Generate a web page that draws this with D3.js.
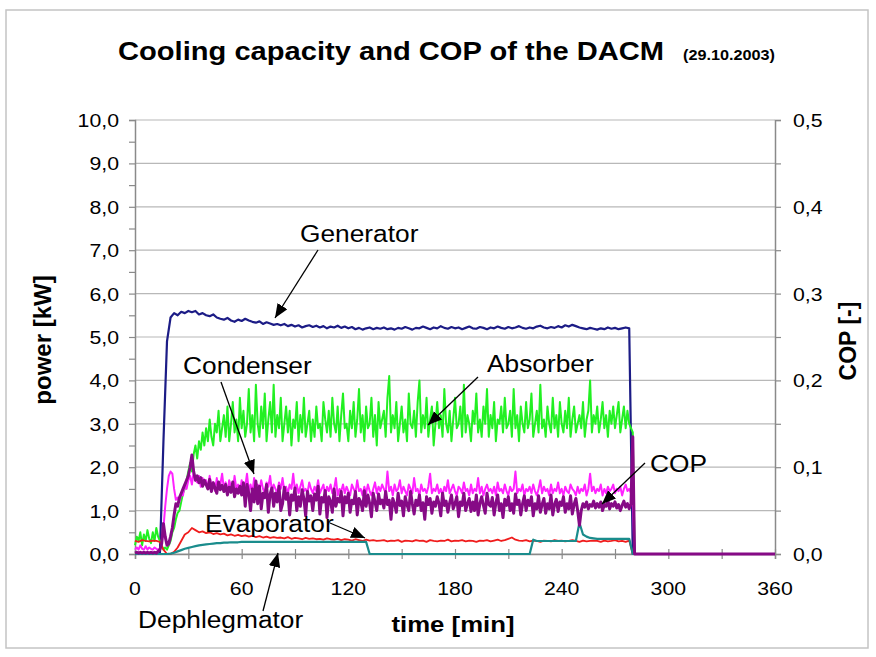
<!DOCTYPE html>
<html>
<head>
<meta charset="utf-8">
<script src="https://cdn.jsdelivr.net/npm/d3@7"></script>
<style>
    body { margin: 0; background: #fff; }
    #chart-area { width: 876px; height: 657px; }
    text { font-family: "Liberation Sans", Arial, sans-serif; fill: #000; }
</style>
</head>
<body>
<div id="chart-area"></div>
<script>
// sample times [min]: fine = every minute, coarse = every 2 minutes, both end with the idle point at 360
const fineMinutes = d3.range(0, 282, 1).concat([360]);
const coarseMinutes = d3.range(0, 282, 2).concat([360]);

// Absorber [kW], every minute
const absorberKW = [
    0.2,0.4,0.3,0.5,0.2,0.45,0.3,0.55,0.35,0.25,
    0.5,0.3,0.6,0.4,0.3,0.2,0.1,0.15,0.1,0.2,
    0.3,0.5,0.6,0.8,0.95,1.0,1.2,1.4,1.5,1.7,
    1.9,2.1,1.9,2.3,2.5,2.2,2.6,2.4,2.8,2.5,
    2.9,2.6,3.1,2.7,2.5,3.0,2.8,3.3,2.6,2.9,
    3.2,2.7,3.4,2.6,3.0,3.5,2.8,3.1,2.6,3.6,
    2.9,3.3,2.7,3.0,3.8,2.8,3.2,2.6,3.9,3.0,
    2.7,3.4,2.9,3.7,2.6,3.1,3.5,2.8,3.9,2.7,
    3.2,2.9,3.6,2.6,3.0,3.4,2.8,3.3,2.5,3.1,
    2.9,3.5,2.6,3.2,2.8,3.6,2.7,3.0,3.3,2.6,
    3.1,2.7,3.4,2.9,3.0,2.6,3.5,3.1,2.8,3.3,
    2.7,3.6,3.0,2.8,3.4,2.6,3.2,3.7,2.9,3.0,
    2.6,3.3,2.9,3.5,2.7,3.1,3.8,2.8,3.2,2.6,
    3.4,2.9,3.0,3.6,2.7,3.2,2.5,3.5,2.9,3.1,
    3.3,2.7,3.6,4.1,2.8,3.2,2.9,3.5,2.6,3.0,
    3.4,2.8,3.1,2.6,3.7,3.0,2.9,3.3,2.7,3.5,
    4.0,2.8,3.2,2.9,3.6,2.7,3.1,3.4,2.5,3.0,
    3.5,2.9,3.2,2.7,3.8,3.0,2.8,3.3,2.6,3.1,
    3.6,2.9,3.0,3.4,2.7,3.9,2.8,3.2,3.0,2.6,
    3.3,3.0,3.7,2.8,3.1,2.7,3.4,3.0,3.8,2.7,
    3.2,2.9,3.5,2.6,3.1,3.0,3.4,2.8,3.6,2.9,
    3.0,3.3,2.7,3.8,2.9,3.2,2.6,3.4,3.0,2.8,
    3.5,2.9,3.1,3.7,2.7,3.0,3.3,2.8,3.9,2.9,
    3.1,2.7,3.4,3.0,2.8,3.6,2.9,3.2,2.7,3.5,
    3.0,2.8,3.3,2.9,3.6,2.7,3.1,3.4,2.8,3.0,
    3.2,2.9,3.5,2.7,3.1,3.3,4.0,2.8,3.2,3.0,
    3.4,2.8,3.1,3.5,2.9,3.2,2.7,3.3,3.0,3.4,
    2.9,3.2,3.5,2.8,3.1,3.4,2.9,3.3,3.0,2.9,
    2.8,0,
    0
];

// Condenser [kW], every minute
const condenserKW = [
    0.1,0.15,0.1,0.2,0.12,0.1,0.18,0.1,0.15,0.12,
    0.1,0.15,0.12,0.1,0.12,0.2,0.6,1.1,1.5,1.8,
    1.9,1.85,1.5,1.25,1.3,1.2,1.4,1.35,1.6,1.5,
    1.7,1.8,1.6,1.9,1.7,1.65,1.8,1.55,1.75,1.6,
    1.7,1.5,1.8,1.55,1.65,1.45,1.75,1.5,1.6,1.85,
    1.5,1.65,1.4,1.7,1.55,1.45,1.8,1.5,1.6,1.4,
    1.7,1.5,1.55,1.85,1.45,1.6,1.4,1.75,1.5,1.6,
    1.45,1.7,1.5,1.4,1.65,1.55,1.8,1.45,1.6,1.5,
    1.4,1.65,1.5,1.75,1.45,1.55,1.4,1.6,1.5,1.85,
    1.45,1.6,1.4,1.55,1.7,1.45,1.5,1.4,1.65,1.5,
    1.4,1.55,1.45,1.7,1.4,1.5,1.6,1.35,1.55,1.45,
    1.6,1.4,1.5,1.75,1.35,1.5,1.45,1.6,1.4,1.55,
    1.45,1.35,1.6,1.5,1.4,1.7,1.45,1.5,1.35,1.55,
    1.4,1.6,1.45,1.35,1.5,1.65,1.4,1.55,1.45,1.6,
    1.5,1.4,1.9,1.45,1.55,1.35,1.6,1.45,1.5,1.7,
    1.4,1.55,1.45,1.35,1.6,1.5,1.4,1.75,1.45,1.5,
    1.35,1.6,1.45,1.5,1.4,1.55,1.85,1.4,1.5,1.45,
    1.6,1.4,1.5,1.35,1.55,1.45,1.7,1.4,1.5,1.6,
    1.45,1.35,1.55,1.5,1.4,1.65,1.45,1.5,1.35,1.6,
    1.4,1.5,1.45,1.75,1.4,1.55,1.35,1.5,1.6,1.45,
    1.5,1.4,1.55,1.35,1.65,1.45,1.5,1.4,1.6,1.45,
    1.35,1.55,1.45,1.5,1.9,1.4,1.5,1.45,1.6,1.35,
    1.5,1.45,1.55,1.4,1.6,1.45,1.35,1.5,1.7,1.4,
    1.55,1.45,1.5,1.35,1.6,1.4,1.5,1.45,1.65,1.4,
    1.5,1.35,1.55,1.45,1.4,1.6,1.5,1.45,1.35,1.55,
    1.4,1.5,1.45,1.6,1.35,1.5,1.85,1.45,1.55,1.4,
    1.5,1.45,1.6,1.35,1.5,1.4,1.55,1.45,1.5,1.6,
    1.4,1.5,1.45,1.55,1.35,1.5,1.6,1.45,1.5,1.4,
    1.2,0,
    0
];

// COP [-], every minute (right axis)
const copValues = [
    0.001,0.002,0.001,0.002,0.001,0.002,0.001,0.002,0.001,0.002,
    0.001,0.002,0.001,0.003,0.005,0.012,0.035,0.02,0.01,0.012,
    0.02,0.03,0.045,0.058,0.055,0.065,0.07,0.075,0.08,0.085,
    0.09,0.1,0.114,0.095,0.085,0.09,0.082,0.088,0.078,0.085,
    0.08,0.075,0.086,0.072,0.082,0.076,0.07,0.083,0.074,0.079,
    0.072,0.08,0.068,0.077,0.071,0.083,0.066,0.075,0.07,0.078,
    0.068,0.082,0.055,0.08,0.07,0.05,0.075,0.06,0.084,0.058,
    0.078,0.052,0.07,0.065,0.08,0.048,0.069,0.076,0.055,0.07,
    0.06,0.078,0.05,0.058,0.077,0.063,0.07,0.045,0.068,0.062,
    0.076,0.05,0.066,0.055,0.074,0.064,0.044,0.072,0.061,0.067,
    0.05,0.069,0.062,0.078,0.046,0.065,0.06,0.073,0.042,0.066,
    0.061,0.048,0.075,0.055,0.064,0.06,0.072,0.044,0.066,0.059,
    0.07,0.048,0.062,0.058,0.072,0.045,0.064,0.06,0.05,0.073,
    0.055,0.068,0.058,0.043,0.07,0.06,0.05,0.069,0.058,0.062,
    0.053,0.072,0.057,0.062,0.04,0.064,0.058,0.048,0.07,0.056,
    0.061,0.044,0.066,0.057,0.05,0.072,0.058,0.046,0.062,0.056,
    0.068,0.05,0.059,0.04,0.066,0.057,0.064,0.047,0.06,0.055,
    0.066,0.058,0.044,0.07,0.056,0.061,0.048,0.059,0.068,0.052,
    0.058,0.066,0.043,0.06,0.056,0.07,0.05,0.058,0.064,0.049,
    0.06,0.05,0.068,0.045,0.058,0.066,0.056,0.047,0.07,0.057,
    0.055,0.065,0.045,0.059,0.068,0.05,0.058,0.042,0.063,0.056,
    0.066,0.05,0.058,0.047,0.069,0.057,0.062,0.045,0.058,0.067,
    0.05,0.062,0.056,0.066,0.044,0.058,0.052,0.067,0.048,0.057,
    0.064,0.047,0.058,0.052,0.068,0.045,0.057,0.063,0.049,0.06,
    0.056,0.066,0.048,0.058,0.052,0.067,0.046,0.057,0.064,0.05,
    0.033,0.05,0.058,0.054,0.06,0.052,0.057,0.055,0.061,0.053,
    0.058,0.054,0.06,0.05,0.057,0.055,0.062,0.052,0.058,0.055,
    0.06,0.053,0.057,0.05,0.056,0.061,0.054,0.058,0.052,0.058,
    0.135,0,
    0
];

// Generator [kW], every 2 minutes
const generatorKW = [
    0,0,0,0,0,0,0,0,2.6,4.9,
    5.45,5.55,5.5,5.58,5.55,5.6,5.57,5.6,5.52,5.55,
    5.5,5.48,5.52,5.45,5.42,5.4,5.44,5.38,5.35,5.4,
    5.37,5.42,5.38,5.35,5.33,5.36,5.3,5.34,5.31,5.28,
    5.3,5.27,5.3,5.25,5.28,5.24,5.27,5.22,5.25,5.27,
    5.23,5.26,5.22,5.25,5.2,5.24,5.22,5.26,5.21,5.24,
    5.2,5.23,5.18,5.21,5.17,5.2,5.22,5.18,5.21,5.19,
    5.22,5.18,5.2,5.17,5.21,5.19,5.23,5.2,5.17,5.21,
    5.2,5.24,5.21,5.18,5.22,5.2,5.25,5.21,5.19,5.23,
    5.2,5.22,5.18,5.21,5.24,5.2,5.19,5.23,5.21,5.18,
    5.22,5.2,5.24,5.21,5.19,5.23,5.2,5.22,5.25,5.21,
    5.19,5.22,5.2,5.24,5.26,5.22,5.2,5.23,5.21,5.25,
    5.22,5.27,5.24,5.28,5.25,5.22,5.2,5.18,5.21,5.19,
    5.17,5.2,5.18,5.22,5.19,5.21,5.18,5.2,5.22,5.2,
    0,
    0
];

// Evaporator [kW], every 2 minutes
const evaporatorKW = [
    0.3,0.28,0.32,0.3,0.29,0.31,0.3,0.28,0.1,0.0,
    0.0,0.05,0.15,0.3,0.45,0.5,0.6,0.55,0.5,0.52,
    0.48,0.5,0.46,0.48,0.45,0.47,0.43,0.45,0.42,0.44,
    0.41,0.43,0.4,0.42,0.39,0.41,0.38,0.4,0.37,0.39,
    0.37,0.38,0.36,0.39,0.35,0.37,0.36,0.34,0.37,0.35,
    0.36,0.34,0.35,0.33,0.36,0.34,0.33,0.35,0.32,0.34,
    0.33,0.31,0.34,0.32,0.3,0.33,0.31,0.32,0.3,0.31,
    0.32,0.29,0.31,0.3,0.32,0.28,0.31,0.3,0.29,0.32,
    0.3,0.31,0.28,0.32,0.3,0.29,0.31,0.3,0.33,0.29,
    0.31,0.3,0.32,0.29,0.31,0.3,0.28,0.31,0.3,0.32,
    0.29,0.31,0.33,0.3,0.32,0.35,0.38,0.33,0.31,0.3,
    0.32,0.29,0.31,0.3,0.28,0.31,0.3,0.29,0.32,0.3,
    0.31,0.29,0.3,0.32,0.3,0.28,0.31,0.29,0.3,0.31,
    0.3,0.28,0.31,0.29,0.3,0.32,0.29,0.3,0.28,0.31,
    0,
    0
];

// Dephlegmator [kW], every 2 minutes
const dephlegmatorKW = [
    0,0,0,0,0,0,0,0,0,0,
    0.01,0.03,0.06,0.09,0.12,0.14,0.16,0.18,0.2,0.21,
    0.22,0.23,0.24,0.25,0.25,0.26,0.26,0.27,0.27,0.27,
    0.28,0.28,0.28,0.28,0.28,0.28,0.28,0.28,0.28,0.28,
    0.28,0.28,0.28,0.28,0.28,0.28,0.28,0.28,0.28,0.28,
    0.28,0.28,0.28,0.28,0.28,0.28,0.28,0.28,0.28,0.28,
    0.28,0.28,0.28,0.28,0.28,0.28,0,0,0,0,
    0,0,0,0,0,0,0,0,0,0,
    0,0,0,0,0,0,0,0,0,0,
    0,0,0,0,0,0,0,0,0,0,
    0,0,0,0,0,0,0,0,0,0,
    0,0,0.33,0.3,0.3,0.3,0.3,0.3,0.3,0.3,
    0.3,0.3,0.3,0.3,0.3,0.72,0.45,0.4,0.37,0.36,
    0.35,0.35,0.35,0.35,0.35,0.35,0.35,0.35,0.35,0.35,
    0,
    0
];

// axis ticks
const powerTicks = [0, 1, 2, 3, 4, 5, 6, 7, 8, 9, 10];
const copTicks = [0, 0.1, 0.2, 0.3, 0.4, 0.5];
const timeTicks = [0, 60, 120, 180, 240, 300, 360];

// text call-outs: label, text position, arrow start, arrow tip (in pixels)
const callouts = [
    { label: "Generator", tx: 300, ty: 242, from: [318, 250], to: [275, 318] },
    { label: "Condenser", tx: 183, ty: 374, from: [221, 382], to: [254, 474] },
    { label: "Absorber", tx: 487, ty: 372, from: [478, 377], to: [428, 425] },
    { label: "COP", tx: 650, ty: 472, from: [645, 463], to: [602, 504] },
    { label: "Evaporator", tx: 205, ty: 532, from: [330, 523], to: [365, 538] },
    { label: "Dephlegmator", tx: 138, ty: 628, from: [263, 611], to: [278, 553] }
];

class CoolingChart {
    constructor(parentElement) {
        this.parentElement = parentElement;
        this.initVis();
    }

    initVis() {
        let vis = this;

        vis.margin = { top: 120, right: 101, bottom: 103, left: 135 };
        vis.width = 876 - vis.margin.left - vis.margin.right;
        vis.height = 657 - vis.margin.top - vis.margin.bottom;
        vis.stretch = 1.12; // the picture's text is a bit wide

        vis.root = d3.select("#" + vis.parentElement).append("svg")
            .attr("width", 876)
            .attr("height", 657);

        // outer frame
        vis.root.append("rect")
            .attr("x", 6).attr("y", 10)
            .attr("width", 862).attr("height", 638)
            .attr("fill", "none")
            .attr("stroke", "#c4c4c4")
            .attr("stroke-width", 1.5);

        vis.root.append("defs").append("marker")
            .attr("id", "head")
            .attr("markerUnits", "userSpaceOnUse")
            .attr("viewBox", "0 0 12 10")
            .attr("refX", 12).attr("refY", 5)
            .attr("markerWidth", 14).attr("markerHeight", 12)
            .attr("orient", "auto")
            .append("path")
            .attr("d", "M0,0 L12,5 L0,10 Z")
            .attr("fill", "#000");

        vis.svg = vis.root.append("g")
            .attr("transform", "translate(" + vis.margin.left + "," + vis.margin.top + ")");

        vis.x = d3.scaleLinear().domain([0, 360]).range([0, vis.width]);
        vis.y = d3.scaleLinear().domain([0, 10]).range([vis.height, 0]);
        vis.yCop = d3.scaleLinear().domain([0, 0.5]).range([vis.height, 0]);

        // horizontal grid lines
        vis.svg.append("g")
            .selectAll("line")
            .data(powerTicks)
            .enter().append("line")
            .attr("x1", 0).attr("x2", vis.width)
            .attr("y1", d => vis.y(d)).attr("y2", d => vis.y(d))
            .attr("stroke", "#b8b8b8")
            .attr("stroke-width", 1.2);

        // axes
        vis.yAxis = d3.axisLeft(vis.y).tickValues(d3.range(0, 10.5, 0.5)).tickSize(6).tickFormat("");
        vis.copAxis = d3.axisRight(vis.yCop).tickValues(d3.range(0, 0.525, 0.05)).tickSize(6).tickFormat("");
        vis.xAxis = d3.axisBottom(vis.x).tickValues(d3.range(0, 390, 30)).tickSize(5).tickFormat("");

        vis.svg.append("g").attr("class", "y-axis axis").call(vis.yAxis);
        vis.svg.append("g").attr("class", "cop-axis axis")
            .attr("transform", "translate(" + vis.width + ",0)")
            .call(vis.copAxis);
        vis.svg.append("g").attr("class", "x-axis axis")
            .attr("transform", "translate(0," + vis.height + ")")
            .call(vis.xAxis);
        vis.svg.selectAll(".axis path").attr("stroke", "#8a8a8a").attr("stroke-width", 1.5);
        vis.svg.selectAll(".axis line").attr("stroke", "#8a8a8a").attr("stroke-width", 1.2);
        vis.svg.selectAll(".x-axis .tick line").attr("y1", -5);

        // tick labels
        powerTicks.forEach(d => vis.label(vis.svg, -16, vis.y(d) + 7, d3.format(".1f")(d).replace(".", ","), 19, "end", "normal"));
        copTicks.forEach(d => vis.label(vis.svg, vis.width + 18, vis.yCop(d) + 7, d3.format(".1f")(d).replace(".", ","), 19, "start", "normal"));
        timeTicks.forEach(d => vis.label(vis.svg, vis.x(d), vis.height + 41, String(d), 19, "middle", "normal"));

        // titles
        vis.label(vis.root, 118, 60, "Cooling capacity and COP of the DACM", 26, "start", "bold");
        vis.label(vis.root, 683, 60, "(29.10.2003)", 14.5, "start", "bold");
        vis.label(vis.root, 453, 632, "time [min]", 23, "middle", "bold");

        vis.root.append("text")
            .attr("transform", "translate(51,340) rotate(-90)")
            .attr("text-anchor", "middle")
            .style("font-size", "24px")
            .style("font-weight", "bold")
            .text("power [kW]");

        vis.root.append("text")
            .attr("transform", "translate(856,341) rotate(-90)")
            .attr("text-anchor", "middle")
            .style("font-size", "23px")
            .style("font-weight", "bold")
            .text("COP [-]");

        vis.wrangleData();
    }

    label(parent, x, y, txt, size, anchor, weight) {
        let vis = this;
        return parent.append("text")
            .attr("transform", "translate(" + x + "," + y + ") scale(" + vis.stretch + ",1)")
            .attr("text-anchor", anchor)
            .style("font-size", size + "px")
            .style("font-weight", weight)
            .text(txt);
    }

    wrangleData() {
        let vis = this;

        let zip = (times, values) => times.map((t, i) => ({ t: t, v: values[i] }));

        vis.series = [
            { name: "generator", data: zip(coarseMinutes, generatorKW), color: "#1c1c86", width: 2.2, cop: false },
            { name: "absorber", data: zip(fineMinutes, absorberKW), color: "#22f022", width: 2, cop: false },
            { name: "condenser", data: zip(fineMinutes, condenserKW), color: "#ff22ff", width: 2, cop: false },
            { name: "evaporator", data: zip(coarseMinutes, evaporatorKW), color: "#f01c1c", width: 1.8, cop: false },
            { name: "dephlegmator", data: zip(coarseMinutes, dephlegmatorKW), color: "#1a8c8c", width: 2.2, cop: false },
            { name: "cop", data: zip(fineMinutes, copValues), color: "#860a86", width: 3, cop: true }
        ];

        vis.updateVis();
    }

    updateVis() {
        let vis = this;

        vis.series.forEach(s => {
            let yScale = s.cop ? vis.yCop : vis.y;
            let line = d3.line()
                .x(d => vis.x(d.t))
                .y(d => yScale(d.v));

            vis.svg.append("path")
                .datum(s.data)
                .attr("class", "line " + s.name)
                .attr("fill", "none")
                .attr("stroke", s.color)
                .attr("stroke-width", s.width)
                .attr("stroke-linejoin", "round")
                .attr("d", line);
        });

        // call-outs
        callouts.forEach(c => {
            vis.root.append("line")
                .attr("x1", c.from[0]).attr("y1", c.from[1])
                .attr("x2", c.to[0]).attr("y2", c.to[1])
                .attr("stroke", "#000")
                .attr("stroke-width", 1.3)
                .attr("marker-end", "url(#head)");
            vis.label(vis.root, c.tx, c.ty, c.label, 23.5, "start", "normal");
        });
    }
}

new CoolingChart("chart-area");
</script>
</body>
</html>
